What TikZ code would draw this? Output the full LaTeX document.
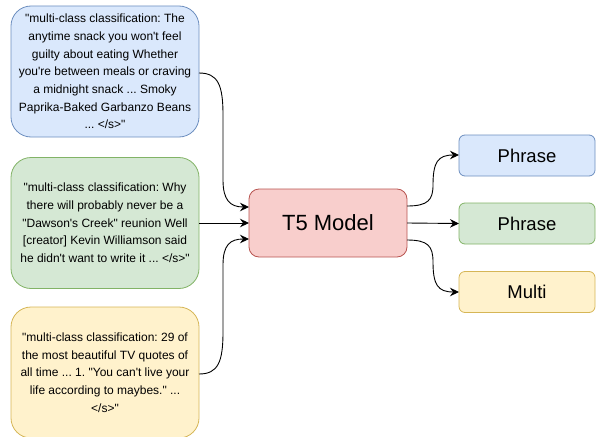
\documentclass[tikz,border=0pt]{standalone}
\usepackage{fontspec}
\newfontfamily\hv{Liberation Sans}
\usetikzlibrary{arrows.meta}
\frenchspacing
\definecolor{bluefill}{HTML}{DAE8FC}\definecolor{bluedraw}{HTML}{6C8EBF}
\definecolor{greenfill}{HTML}{D5E8D4}\definecolor{greendraw}{HTML}{82B366}
\definecolor{yellowfill}{HTML}{FFF2CC}\definecolor{yellowdraw}{HTML}{D6B656}
\definecolor{redfill}{HTML}{F8CECC}\definecolor{reddraw}{HTML}{B85450}
\tikzset{
  base/.style={draw, line width=0.8pt, inner sep=0pt, outer sep=0pt, align=center, text=black},
  inbox/.style={base, rounded corners=20pt, minimum width=188pt, minimum height=131pt,
    font=\hv\fontsize{12}{17.7}\selectfont},
  model/.style={base, rounded corners=10pt, minimum width=158pt, minimum height=68pt,
    font=\hv\fontsize{22}{26}\selectfont},
  outbox/.style={base, rounded corners=6pt, minimum width=136pt, minimum height=41pt,
    font=\hv\fontsize{18.5}{22}\selectfont},
  conn/.style={line width=0.9pt, -{Stealth[length=9pt,width=8.5pt,inset=3pt]}},
}
\begin{document}
\begin{tikzpicture}[x=1pt,y=-1pt]
\useasboundingbox (0,0) rectangle (596,436);
% input sentences
\node[inbox, fill=bluefill, draw=bluedraw] (in1) at (105,71.5)
  {"multi-class classification: The\\anytime snack you won't feel\\guilty about eating Whether\\you're between meals or craving\\a midnight snack ... Smoky\\Paprika-Baked Garbanzo Beans\\... </s>"};
\node[inbox, fill=greenfill, draw=greendraw] (in2) at (105,223)
  {"multi-class classification: Why\\there will probably never be a\\"Dawson's Creek" reunion Well\\{}[creator] Kevin Williamson said\\he didn't want to write it ... </s>"};
\node[inbox, fill=yellowfill, draw=yellowdraw] (in3) at (105,372.5)
  {"multi-class classification: 29 of\\the most beautiful TV quotes of\\all time ... 1. "You can't live your\\life according to maybes." ...\\</s>"};
% model
\node[model, fill=redfill, draw=reddraw] (t5) at (328,223) {T5 Model};
% outputs
\node[outbox, fill=bluefill, draw=bluedraw] (o1) at (527,155.5) {Phrase};
\node[outbox, fill=greenfill, draw=greendraw] (o2) at (527,223.5) {Phrase};
\node[outbox, fill=yellowfill, draw=yellowdraw] (o3) at (527,292) {Multi};
% connectors into the model
\draw[conn] (in1.east |- 0,73) .. controls (218,73) and (223,85) .. (223,115)
  -- (223,180) .. controls (223,200) and (230,207) .. (t5.west |- 0,207);
\draw[conn] (in2.east) -- (t5.west);
\draw[conn] (in3.east |- 0,374) .. controls (218,374) and (223,362) .. (223,332)
  -- (223,265) .. controls (223,245) and (230,239) .. (t5.west |- 0,239);
% connectors out of the model
\draw[conn] (t5.east |- 0,206) .. controls (428,206) and (433,200) .. (433,185)
  .. controls (433,162) and (438,155) .. (o1.west |- 0,155);
\draw[conn] (t5.east) -- (o2.west);
\draw[conn] (t5.east |- 0,240) .. controls (428,240) and (433,246) .. (433,262)
  .. controls (433,285) and (438,292) .. (o3.west |- 0,292);
\end{tikzpicture}
\end{document}
